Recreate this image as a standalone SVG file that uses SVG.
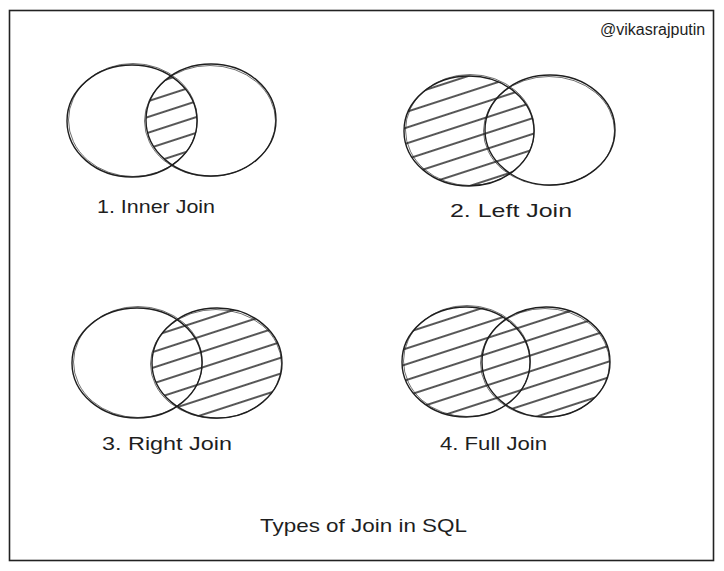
<svg xmlns="http://www.w3.org/2000/svg" width="724" height="571" viewBox="0 0 724 571">
<style>
.c{fill:none;stroke:#1e1e1e;stroke-width:1.4}
.c2{fill:none;stroke:#1e1e1e;stroke-width:0.8;opacity:0.8}
.lbl{font-family:"Comic Sans MS","Liberation Sans",sans-serif;font-size:19px;fill:#1e1e1e}
.tag{font-family:"Liberation Sans",Arial,sans-serif;font-size:16px;fill:#1e1e1e}
</style>
<defs>
<pattern id="hatch" patternUnits="userSpaceOnUse" width="40" height="15" patternTransform="rotate(-18)">
<line x1="-5" y1="7" x2="45" y2="7" stroke="#1e1e1e" stroke-width="1.3"/>
</pattern>
<clipPath id="a1"><ellipse cx="132" cy="121" rx="65" ry="56"/></clipPath>
<clipPath id="b1"><ellipse cx="211" cy="120" rx="65" ry="56"/></clipPath>
<clipPath id="a2"><ellipse cx="469" cy="131" rx="65" ry="55"/></clipPath>
<clipPath id="b3"><ellipse cx="217" cy="363" rx="65" ry="55"/></clipPath>
<clipPath id="u4"><ellipse cx="466" cy="362" rx="64" ry="55"/><ellipse cx="546" cy="362" rx="64" ry="55"/></clipPath>
</defs>
<rect x="9.5" y="10.5" width="704" height="550" fill="#fff" stroke="#222" stroke-width="1.6"/>
<text class="tag" x="600" y="35">@vikasrajputin</text>

<g id="inner-join">
<g clip-path="url(#a1)"><rect x="140" y="60" width="70" height="120" fill="url(#hatch)" clip-path="url(#b1)"/></g>
<ellipse class="c" cx="132" cy="121" rx="65" ry="56"/>
<ellipse class="c2" cx="133" cy="120" rx="64.5" ry="56.5"/>
<ellipse class="c" cx="211" cy="120" rx="65" ry="56"/>
<ellipse class="c2" cx="210" cy="121" rx="65.5" ry="55.5"/>
<text class="lbl" x="97" y="213" textLength="118" lengthAdjust="spacingAndGlyphs">1. Inner Join</text>
</g>

<g id="left-join">
<rect x="400" y="70" width="140" height="120" fill="url(#hatch)" clip-path="url(#a2)"/>
<ellipse class="c" cx="469" cy="131" rx="65" ry="55"/>
<ellipse class="c2" cx="470" cy="130" rx="64.5" ry="55.5"/>
<ellipse class="c" cx="550" cy="130" rx="65" ry="55"/>
<ellipse class="c2" cx="549" cy="131" rx="65.5" ry="54.5"/>
<text class="lbl" x="450" y="217" textLength="122" lengthAdjust="spacingAndGlyphs">2. Left Join</text>
</g>

<g id="right-join">
<rect x="148" y="300" width="140" height="125" fill="url(#hatch)" clip-path="url(#b3)"/>
<ellipse class="c" cx="137" cy="363" rx="65" ry="55"/>
<ellipse class="c2" cx="138" cy="362" rx="64.5" ry="55.5"/>
<ellipse class="c" cx="217" cy="363" rx="65" ry="55"/>
<ellipse class="c2" cx="216" cy="364" rx="65.5" ry="54.5"/>
<text class="lbl" x="102" y="450" textLength="130" lengthAdjust="spacingAndGlyphs">3. Right Join</text>
</g>

<g id="full-join">
<rect x="398" y="300" width="220" height="125" fill="url(#hatch)" clip-path="url(#u4)"/>
<ellipse class="c" cx="466" cy="362" rx="64" ry="55"/>
<ellipse class="c2" cx="467" cy="361" rx="63.5" ry="55.5"/>
<ellipse class="c" cx="546" cy="362" rx="64" ry="55"/>
<ellipse class="c2" cx="545" cy="363" rx="64.5" ry="54.5"/>
<text class="lbl" x="440" y="450" textLength="107" lengthAdjust="spacingAndGlyphs">4. Full Join</text>
</g>

<g id="connectors"></g>

<text class="lbl" x="260" y="532" textLength="207" lengthAdjust="spacingAndGlyphs">Types of Join in SQL</text>
</svg>
